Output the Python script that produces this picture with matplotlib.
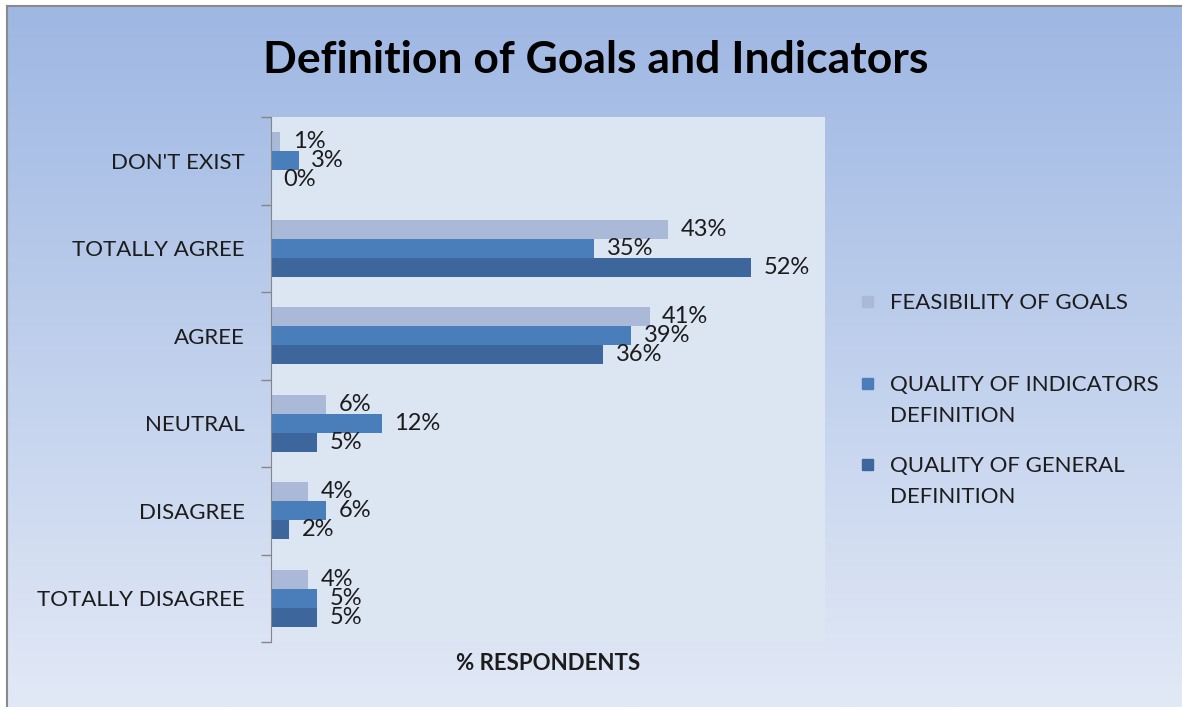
import numpy as np
import matplotlib
matplotlib.use("Agg")
import matplotlib.pyplot as plt
from matplotlib.patches import Rectangle
from matplotlib.lines import Line2D

plt.rcParams['font.family'] = ['Lato', 'DejaVu Sans']

categories = ["DON'T EXIST", "TOTALLY AGREE", "AGREE", "NEUTRAL", "DISAGREE", "TOTALLY DISAGREE"]
series_names = ["FEASIBILITY OF GOALS", "QUALITY OF INDICATORS\nDEFINITION",
                "QUALITY OF GENERAL\nDEFINITION"]
feasibility = [1, 43, 41, 6, 4, 4]
indicators = [3, 35, 39, 12, 6, 5]
general = [0, 52, 36, 5, 2, 5]
series = [feasibility, indicators, general]
colors = ["#AAB9D7", "#4A7EBB", "#3D669C"]
text_col = "#1c1c1c"

W, H = 1182, 707
fig = plt.figure(figsize=(W / 100, H / 100), dpi=100)
fig.patch.set_facecolor("white")

# gradient background of the chart area
bg = fig.add_axes([7 / W, 0, 1 - 7 / W, 1 - 6 / H])
top = np.array([158, 183, 227]) / 255
bot = np.array([226, 233, 246]) / 255
t = np.linspace(0, 1, 256)[:, None]
grad = (top[None, :] * (1 - t) + bot[None, :] * t)[:, None, :]
bg.imshow(grad, aspect="auto", extent=[0, 1, 0, 1])
bg.set_axis_off()
fig.add_artist(Line2D([7 / W, 7 / W], [0, 1 - 6 / H], color="#8a8a8a", lw=1.5))
fig.add_artist(Line2D([7 / W, 1], [1 - 6 / H, 1 - 6 / H], color="#8a8a8a", lw=1.5))

ax = fig.add_axes([271 / W, 1 - 642 / H, (825 - 271) / W, (642 - 117) / H])
ax.set_facecolor("#DCE5F2")

y = np.arange(len(categories))
h = 0.218
offsets = [-h, 0, h]
for vals, off, col in zip(series, offsets, colors):
    bars = ax.barh(y + off, vals, height=h, color=col, zorder=2)
    for b, v in zip(bars, vals):
        ax.annotate(f"{v}%", (b.get_width(), b.get_y() + b.get_height() / 2),
                    xytext=(9, 0), textcoords="offset points",
                    ha="left", va="center", fontsize=17, color=text_col, zorder=3)

ax.set_xlim(0, 60)
ax.set_ylim(len(categories) - 0.5, -0.5)
ax.set_xticks([])
ax.set_yticks(y)
ax.set_yticklabels(categories, fontsize=16, color=text_col)
ax.tick_params(axis="y", which="major", length=0, pad=19)
ax.set_yticks(np.arange(-0.5, len(categories)), minor=True)
ax.tick_params(axis="y", which="minor", length=7, color="#868686", width=1)
for s in ["top", "right", "bottom"]:
    ax.spines[s].set_visible(False)
ax.spines["left"].set_color("#868686")

fig.text(596 / W, 1 - 60 / H, "Definition of Goals and Indicators", ha="center", va="center",
         fontsize=32, fontweight="bold", color="black")
fig.text(548 / W, 1 - 663 / H, "% RESPONDENTS", ha="center", va="center",
         fontsize=16, fontweight="bold", color=text_col)

# legend
rows = [302, 384, 465]
for name, col, yy in zip(series_names, colors, rows):
    fig.add_artist(Rectangle((862 / W, 1 - (yy + 5) / H), 11 / W, 11 / H,
                             transform=fig.transFigure, color=col))
    fig.text(890 / W, 1 - (yy - 9) / H, name, ha="left", va="top", fontsize=16,
             color=text_col, linespacing=1.68)

fig.savefig("out.png", dpi=100)
